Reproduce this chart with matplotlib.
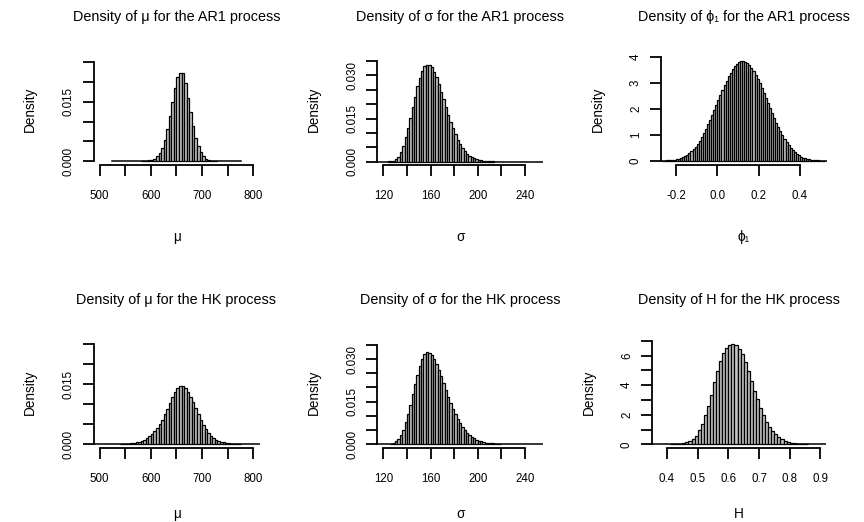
import matplotlib
matplotlib.use("Agg")
import matplotlib.pyplot as plt
import numpy as np

# densities (R hist, freq=FALSE)
ar1_mu_start, ar1_mu_width = 580, 5
ar1_mu_dens = [0.0001, 0.0001, 0.0002, 0.0003, 0.0004, 0.0007, 0.0013, 0.0021, 0.0033, 0.0054,
               0.0082, 0.0113, 0.0150, 0.0185, 0.0213, 0.0223, 0.0221, 0.0196, 0.0160, 0.0123,
               0.0088, 0.0058, 0.0038, 0.0023, 0.0013, 0.0007, 0.0004, 0.0002, 0.0001, 0.0001]
ar1_mu_range = (525, 775)

ar1_sigma_start, ar1_sigma_width = 124, 2
ar1_sigma_dens = [0.0001, 0.0002, 0.0004, 0.0009, 0.0017, 0.0033, 0.0055, 0.0085, 0.0117, 0.0152,
                  0.0190, 0.0226, 0.0262, 0.0292, 0.0316, 0.0332, 0.0338, 0.0337, 0.0328, 0.0313,
                  0.0293, 0.0270, 0.0244, 0.0217, 0.0190, 0.0164, 0.0139, 0.0116, 0.0095, 0.0077,
                  0.0061, 0.0048, 0.0037, 0.0028, 0.0021, 0.0016, 0.0012, 0.0009, 0.0007, 0.0005,
                  0.0004, 0.0003, 0.0002, 0.0001, 0.0001]
ar1_sigma_range = (114, 256)

ar1_phi_start, ar1_phi_width = -0.27, 0.01
ar1_phi_dens = [0.01, 0.01, 0.02, 0.02, 0.03, 0.04, 0.05, 0.07, 0.09, 0.12,
                0.15, 0.19, 0.24, 0.30, 0.37, 0.45, 0.55, 0.66, 0.78, 0.92,
                1.07, 1.23, 1.40, 1.58, 1.77, 1.96, 2.15, 2.35, 2.54, 2.73,
                2.91, 3.08, 3.24, 3.39, 3.52, 3.63, 3.72, 3.79, 3.83, 3.83,
                3.80, 3.75, 3.67, 3.57, 3.45, 3.31, 3.15, 2.98, 2.80, 2.61,
                2.42, 2.22, 2.03, 1.84, 1.65, 1.47, 1.30, 1.14, 0.99, 0.85,
                0.72, 0.61, 0.51, 0.42, 0.34, 0.27, 0.22, 0.17, 0.13, 0.10,
                0.08, 0.06, 0.04, 0.03, 0.02, 0.02, 0.01, 0.01, 0.01]
ar1_phi_range = (-0.28, 0.54)

hk_mu_start, hk_mu_width = 540, 5
hk_mu_dens = [0.0001, 0.0001, 0.0002, 0.0002, 0.0003, 0.0004, 0.0005, 0.0007, 0.0009, 0.0012,
              0.0016, 0.0021, 0.0027, 0.0033, 0.0041, 0.0051, 0.0062, 0.0075, 0.0089, 0.0103,
              0.0118, 0.0131, 0.0141, 0.0146, 0.0146, 0.0141, 0.0131, 0.0119, 0.0105, 0.0090,
              0.0075, 0.0061, 0.0048, 0.0038, 0.0029, 0.0022, 0.0017, 0.0012, 0.0009, 0.0007,
              0.0005, 0.0004, 0.0003, 0.0002, 0.0002, 0.0001, 0.0001]
hk_mu_range = (485, 815)

hk_sigma_start, hk_sigma_width = 126, 2
hk_sigma_dens = [0.0002, 0.0005, 0.0010, 0.0019, 0.0033, 0.0052, 0.0077, 0.0107, 0.0140, 0.0176,
                 0.0212, 0.0245, 0.0276, 0.0300, 0.0316, 0.0323, 0.0322, 0.0315, 0.0301, 0.0283,
                 0.0262, 0.0239, 0.0215, 0.0191, 0.0167, 0.0145, 0.0125, 0.0106, 0.0089, 0.0074,
                 0.0061, 0.0050, 0.0041, 0.0033, 0.0026, 0.0021, 0.0016, 0.0013, 0.0010, 0.0008,
                 0.0006, 0.0005, 0.0004, 0.0003, 0.0002, 0.0001, 0.0001]
hk_sigma_range = (114, 256)

hk_h_start, hk_h_width = 0.41, 0.01
hk_h_dens = [0.01, 0.02, 0.03, 0.05, 0.08, 0.13, 0.22, 0.35, 0.55, 0.95,
             1.40, 1.95, 2.60, 3.35, 4.20, 4.95, 5.60, 6.15, 6.50, 6.70,
             6.76, 6.68, 6.47, 6.10, 5.55, 4.95, 4.25, 3.60, 3.05, 2.45,
             1.95, 1.53, 1.19, 0.92, 0.68, 0.50, 0.36, 0.25, 0.18, 0.12,
             0.08, 0.05, 0.03, 0.02, 0.01]
hk_h_range = (0.35, 0.93)

titles = ["Density of μ for the AR1 process", "Density of σ for the AR1 process",
          "Density of ϕ₁ for the AR1 process", "Density of μ for the HK process",
          "Density of σ for the HK process", "Density of H for the HK process"]
xlabels = ["μ", "σ", "ϕ₁", "μ", "σ", "H"]

mu_xticks = [500, 550, 600, 650, 700, 750, 800]
mu_xlabels = ["500", "", "600", "", "700", "", "800"]
sigma_xticks = [120, 140, 160, 180, 200, 220, 240]
sigma_xlabels = ["120", "", "160", "", "200", "", "240"]
phi_xticks = [-0.2, 0.0, 0.2, 0.4]
phi_xlabels = ["-0.2", "0.0", "0.2", "0.4"]
h_xticks = [0.4, 0.5, 0.6, 0.7, 0.8, 0.9]
h_xlabels = ["0.4", "0.5", "0.6", "0.7", "0.8", "0.9"]

mu_yticks = [0, 0.005, 0.010, 0.015, 0.020, 0.025]
mu_ylabels = ["0.000", "", "", "0.015", "", ""]
sigma_yticks = [0, 0.005, 0.010, 0.015, 0.020, 0.025, 0.030, 0.035]
sigma_ylabels = ["0.000", "", "", "0.015", "", "", "0.030", ""]
phi_yticks = [0, 1, 2, 3, 4]
phi_ylabels = ["0", "1", "2", "3", "4"]
h_yticks = [0, 1, 2, 3, 4, 5, 6, 7]
h_ylabels = ["0", "", "2", "", "4", "", "6", ""]


def main():
    plt.rcParams["font.family"] = ["Liberation Sans", "DejaVu Sans"]
    W, H = 864, 522
    fig = plt.figure(figsize=(W / 100, H / 100), dpi=100)

    # (data..., xlim, ylim, (left px, top px, width px, xlabel centre below axis px))
    panels = [
        (ar1_mu_start, ar1_mu_width, ar1_mu_dens, ar1_mu_range, mu_xticks, mu_xlabels, mu_yticks, mu_ylabels,
         (488, 812), (-0.0009, 0.0272), (93.5, 53, 166, 72)),
        (ar1_sigma_start, ar1_sigma_width, ar1_sigma_dens, ar1_sigma_range, sigma_xticks, sigma_xlabels,
         sigma_yticks, sigma_ylabels, (114.9, 255.5), (-0.00115, 0.0378), (377.3, 53, 166, 72)),
        (ar1_phi_start, ar1_phi_width, ar1_phi_dens, ar1_phi_range, phi_xticks, phi_xlabels, phi_yticks,
         phi_ylabels, (-0.2726, 0.5305), (-0.153, 4.138), (661, 53, 166, 72)),
        (hk_mu_start, hk_mu_width, hk_mu_dens, hk_mu_range, mu_xticks, mu_xlabels, mu_yticks, mu_ylabels,
         (488, 812), (-0.000925, 0.0271), (93.5, 336, 166, 66)),
        (hk_sigma_start, hk_sigma_width, hk_sigma_dens, hk_sigma_range, sigma_xticks, sigma_xlabels,
         sigma_yticks, sigma_ylabels, (114.9, 255.5), (-0.0013, 0.0381), (377.3, 336, 166, 66)),
        (hk_h_start, hk_h_width, hk_h_dens, hk_h_range, h_xticks, h_xlabels, h_yticks, h_ylabels,
         (0.351, 0.9185), (-0.25, 7.32), (652, 336, 174, 66)),
    ]

    for i, (start, width, dens, rng, xt, xtl, yt, ytl, xlim, ylim, box) in enumerate(panels):
        left, top, wpx, xlab_off = box
        hpx = 112
        ax = fig.add_axes([left / W, 1 - (top + hpx) / H, wpx / W, hpx / H])
        lefts = start + width * np.arange(len(dens))
        ax.plot(rng, [0, 0], color="black", lw=1.1, zorder=1)
        ax.bar(lefts, dens, width=width, align="edge", color="#c4c4c4",
               edgecolor="black", linewidth=0.9, zorder=2)
        ax.set_xlim(*xlim)
        ax.set_ylim(*ylim)
        for s in ("top", "right"):
            ax.spines[s].set_visible(False)
        ax.spines["left"].set_bounds(yt[0], yt[-1])
        ax.spines["bottom"].set_bounds(xt[0], xt[-1])
        for s in ("left", "bottom"):
            ax.spines[s].set_linewidth(1.3)
        ax.set_xticks(xt, xtl)
        ax.set_yticks(yt, ytl, rotation=90, va="center")
        ax.tick_params(direction="out", length=7.7, width=1.3, labelsize=8.3)
        ax.tick_params(axis="x", pad=10)
        ax.tick_params(axis="y", pad=6)
        ax.set_title(titles[i], fontsize=10.4, y=1 + 36 / hpx, pad=0, va="center")
        ax.set_xlabel(xlabels[i], fontsize=9.8, va="center")
        ax.xaxis.set_label_coords(0.5, -xlab_off / hpx)
        ax.set_ylabel("Density", fontsize=9.8, va="center")
        ax.yaxis.set_label_coords(-63.5 / wpx, 0.5)

    fig.savefig("out.png", dpi=100)
    plt.close(fig)


if __name__ == "__main__":
    main()
